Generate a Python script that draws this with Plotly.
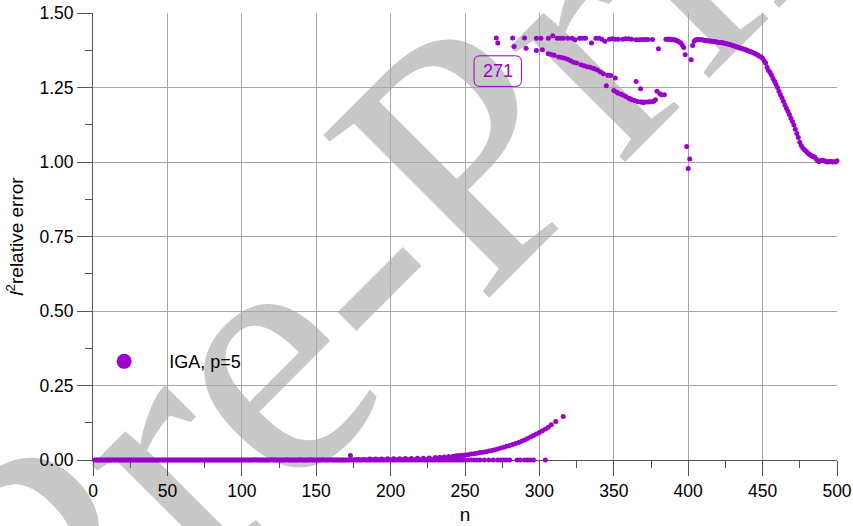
import plotly.graph_objects as go

# ---------------- data ----------------
# near-zero row, consecutive n = 1..250
n_row0 = list(range(1, 251))
err_row0 = [
    0.0, 0.0, 0.0, 0.0, 0.0, 0.0, 0.0, 0.0, 0.0, 0.0, 0.0, 0.0, 0.0, 0.0, 0.0, 0.0, 0.0, 0.0, 0.0, 0.0, 0.0, 0.0, 0.0, 0.0, 0.0,
    0.0, 0.0, 0.0, 0.0, 0.0, 0.0, 0.0, 0.0, 0.0, 0.0, 0.0, 0.0, 0.0, 0.0, 0.0, 0.0, 0.0, 0.0, 0.0, 0.0, 0.0, 0.0, 0.0, 0.0, 0.0,
    0.0, 0.0, 0.0, 0.0, 0.0, 0.0, 0.0, 0.0, 0.0, 0.0, 0.0, 0.0, 0.0, 0.0, 0.0, 0.0, 0.0, 0.0, 0.0, 0.0, 0.0, 0.0, 0.0, 0.0, 0.0,
    0.0, 0.0, 0.0, 0.0, 0.0, 0.0, 0.0, 0.0, 0.0, 0.0, 0.0, 0.0, 0.0, 0.0, 0.0, 0.0, 0.0, 0.0, 0.0, 0.0, 0.0, 0.0, 0.0, 0.0, 0.0,
    0.0, 0.0, 0.0, 0.0, 0.0, 0.0, 0.0, 0.0, 0.001, 0.0, 0.0, 0.0, 0.0, 0.0, 0.0, 0.0, 0.0, 0.0, 0.0, 0.001, 0.0, 0.0, 0.0, 0.0, 0.0,
    0.0, 0.0, 0.0, 0.0, 0.001, 0.0, 0.0, 0.0, 0.0, 0.0, 0.0, 0.0, 0.0, 0.001, 0.0, 0.0, 0.0, 0.0, 0.0, 0.0, 0.001, 0.0, 0.0, 0.0, 0.0,
    0.0, 0.0, 0.0, 0.001, 0.0, 0.0, 0.0, 0.0, 0.0, 0.001, 0.0, 0.0, 0.0, 0.0, 0.0, 0.0, 0.0, 0.0, 0.0, 0.0, 0.0, 0.0, 0.001, 0.0, 0.0,
    0.001, 0.0, 0.0, 0.001, 0.0, 0.0, 0.001, 0.0, 0.0, 0.001, 0.0, 0.0, 0.001, 0.0, 0.0, 0.001, 0.0, 0.0, 0.001, 0.0, 0.0, 0.001, 0.0, 0.0, 0.001,
    0.0, 0.0, 0.001, 0.0, 0.001, 0.0, 0.001, 0.0, 0.001, 0.0, 0.001, 0.0, 0.001, 0.0, 0.001, 0.0, 0.001, 0.0, 0.001, 0.0, 0.001, 0.0, 0.001, 0.0, 0.001,
    0.0, 0.001, 0.0, 0.001, 0.0, 0.001, 0.0, 0.001, 0.0, 0.001, 0.0, 0.001, 0.0, 0.001, 0.0, 0.001, 0.0, 0.001, 0.0, 0.001, 0.0, 0.001, 0.0, 0.001, 0.0,
]
# sparse continuation of the zero row
n_row0b = [252, 254, 256, 258, 260, 263, 266, 269, 272, 274, 276, 278, 280, 285, 287, 290, 292, 294, 296, 304]
err_row0b = [0.0, 0.0, 0.0, 0.0, 0.0, 0.0, 0.0, 0.0, 0.0, 0.0, 0.0, 0.0, 0.0, 0.0, 0.0, 0.0, 0.0, 0.0, 0.0, 0.0]

# rising low branch
n_rise = [173, 178, 182, 186, 190, 194, 198, 202, 206, 210, 214, 218, 222, 226, 230, 233, 236, 239,
          242, 244, 246, 248, 250, 252, 254, 256, 258, 260, 262, 264, 266, 268, 270, 272, 274, 276,
          278, 280, 282, 284, 286, 288, 290, 292, 294, 296, 298, 300, 302, 304, 306, 308, 311, 316]
err_rise = [0.015, 0.002, 0.002, 0.003, 0.003, 0.003, 0.004, 0.004, 0.004, 0.005, 0.005, 0.006, 0.006, 0.007,
            0.008, 0.009, 0.010, 0.012, 0.013, 0.014, 0.015, 0.016, 0.017, 0.018, 0.020, 0.021, 0.023, 0.025,
            0.026, 0.028, 0.030, 0.032, 0.034, 0.037, 0.040, 0.043, 0.046, 0.049, 0.052, 0.055, 0.059, 0.063,
            0.067, 0.072, 0.077, 0.082, 0.087, 0.092, 0.098, 0.104, 0.110, 0.118, 0.129, 0.146]

# top row (about sqrt(2))
n_top = [271, 282, 290, 298, 301, 306, 309, 312, 314, 316, 319, 322, 324, 327, 329, 331, 335, 338, 340,
         342, 344, 347, 349, 351, 353, 356, 358, 360, 362, 365, 367, 369, 371, 373, 376, 380]
err_top = [1.416, 1.416, 1.416, 1.415, 1.415, 1.415, 1.424, 1.415, 1.415, 1.415, 1.415, 1.415, 1.410,
           1.415, 1.415, 1.415, 1.399, 1.415, 1.415, 1.412, 1.405, 1.412, 1.414, 1.412, 1.412, 1.412,
           1.414, 1.414, 1.412, 1.410, 1.410, 1.411, 1.411, 1.411, 1.411, 1.380]

# upper declining branch
n_mid = [272, 283, 291, 298, 302, 306, 308, 310, 313, 315, 317, 319, 321, 323, 325, 328, 330, 332, 334,
         336, 337, 339, 341, 343, 346, 348, 351]
err_mid = [1.399, 1.388, 1.382, 1.374, 1.377, 1.363, 1.361, 1.358, 1.352, 1.351, 1.348, 1.345, 1.340,
           1.335, 1.332, 1.326, 1.323, 1.320, 1.318, 1.315, 1.313, 1.309, 1.302, 1.296, 1.291, 1.290, 1.282]

# lower declining branch
n_low = [345, 350, 352, 353, 355, 356, 358, 360, 361, 362, 364, 365, 366, 368, 368, 369, 370, 371, 373,
         374, 376, 377, 378, 379, 381, 382, 384]
err_low = [1.256, 1.240, 1.234, 1.231, 1.227, 1.225, 1.220, 1.214, 1.212, 1.209, 1.206, 1.270, 1.203,
           1.246, 1.201, 1.201, 1.200, 1.201, 1.201, 1.202, 1.203, 1.205, 1.209, 1.237, 1.229, 1.226, 1.226]

# cluster and jump around n = 400
n_jump = [385, 386, 387, 388, 389, 390, 391, 392, 393, 394, 395, 396, 397, 398, 399, 400, 401, 402, 403, 404]
err_jump = [1.412, 1.412, 1.412, 1.412, 1.411, 1.410, 1.410, 1.408, 1.406, 1.403, 1.399, 1.393, 1.384,
            1.360, 1.052, 0.978, 1.010, 1.343, 1.391, 1.405]

# high branch and final drop, consecutive n = 405..500
n_high = list(range(405, 501))
err_high = [
    1.409, 1.411, 1.411, 1.410, 1.410, 1.409, 1.408, 1.408, 1.407, 1.406, 1.406, 1.405, 1.404, 1.404, 1.403, 1.402,
    1.401, 1.401, 1.400, 1.399, 1.398, 1.397, 1.395, 1.394, 1.393, 1.391, 1.389, 1.388, 1.386, 1.384, 1.382, 1.381,
    1.379, 1.378, 1.376, 1.374, 1.372, 1.370, 1.368, 1.366, 1.364, 1.361, 1.358, 1.355, 1.352, 1.348, 1.340, 1.332,
    1.318, 1.307, 1.300, 1.291, 1.280, 1.271, 1.261, 1.250, 1.237, 1.226, 1.216, 1.204, 1.191, 1.180, 1.170, 1.159,
    1.147, 1.136, 1.124, 1.110, 1.096, 1.082, 1.066, 1.055, 1.047, 1.042, 1.037, 1.032, 1.027, 1.024, 1.020, 1.018,
    1.017, 1.010, 1.003, 1.002, 1.005, 1.006, 1.004, 1.003, 1.001, 1.000, 1.002, 1.002, 1.000, 1.001, 1.000, 1.004,
]

x_ticks = [0, 50, 100, 150, 200, 250, 300, 350, 400, 450, 500]
y_ticks = [0.0, 0.25, 0.5, 0.75, 1.0, 1.25, 1.5]

series_name = "IGA, p=5"
label_n = 271

# ---------------- figure ----------------
PURPLE = "#9900cc"
AXIS = "#555555"
GRID = "#a6a6a6"

xs = n_row0 + n_row0b + n_rise + n_top + n_mid + n_low + n_jump + n_high
ys = err_row0 + err_row0b + err_rise + err_top + err_mid + err_low + err_jump + err_high

fig = go.Figure()
fig.add_trace(go.Scatter(
    x=xs, y=ys, mode="markers", name=series_name, showlegend=False,
    marker=dict(color=PURPLE, size=5, line=dict(width=0)),
    cliponaxis=False,
))
# legend entry
fig.add_trace(go.Scatter(
    x=[None], y=[None], mode="markers",
    name="\u00a0\u00a0\u00a0\u00a0\u00a0" + series_name,
    marker=dict(color=PURPLE, size=15),
))

# watermark
fig.add_shape(
    type="rect", xref="paper", yref="paper", x0=0.4141, x1=0.4201, y0=0.6693, y1=0.6753,
    line=dict(width=0), fillcolor="rgba(0,0,0,0)", layer="below",
    label=dict(text="Pre-Print", textangle=-45, textposition="middle center",
               font=dict(family="Liberation Serif", size=355, color="#c8c8c8")),
)

# rounded label box for n = 271
fig.add_shape(
    type="path", xref="x", yref="y", xsizemode="pixel", ysizemode="pixel",
    xanchor=label_n + 1, yanchor=1.305,
    path=("M -17.7,-15.3 L 17.7,-15.3 Q 23.7,-15.3 23.7,-9.3 L 23.7,9.3 Q 23.7,15.3 17.7,15.3 "
          "L -17.7,15.3 Q -23.7,15.3 -23.7,9.3 L -23.7,-9.3 Q -23.7,-15.3 -17.7,-15.3 Z"),
    line=dict(color=PURPLE, width=1), fillcolor="rgba(255,255,255,0)", layer="above",
)
fig.add_annotation(
    x=label_n + 1, y=1.305, xref="x", yref="y", text=str(label_n), showarrow=False,
    xanchor="center", yanchor="middle",
    font=dict(family="Liberation Sans", size=18, color=PURPLE),
)

tickfont = dict(family="Liberation Sans", size=17.5, color="#000000")
titlefont = dict(family="Liberation Sans", size=19, color="#000000")

fig.update_xaxes(
    range=[0, 500], tickvals=x_ticks, ticktext=[str(v) for v in x_ticks],
    showgrid=True, gridcolor=GRID, gridwidth=1, zeroline=False,
    showline=True, linecolor=AXIS, linewidth=1,
    ticks="outside", ticklen=15, tickwidth=1, tickcolor=AXIS,
    minor=dict(dtick=25, tick0=0, ticks="outside", ticklen=7, tickwidth=1, tickcolor=AXIS, showgrid=False),
    tickfont=tickfont, layer="below traces",
    title=dict(text="n", font=titlefont, standoff=7),
)
fig.update_yaxes(
    range=[0, 1.5], tickvals=y_ticks, ticktext=["%.2f" % v for v in y_ticks],
    showgrid=True, gridcolor=GRID, gridwidth=1, zeroline=False,
    showline=True, linecolor=AXIS, linewidth=1,
    ticks="outside", ticklen=15, tickwidth=1, tickcolor=AXIS,
    minor=dict(dtick=0.125, tick0=0, ticks="outside", ticklen=7, tickwidth=1, tickcolor=AXIS, showgrid=False),
    tickfont=tickfont, layer="below traces", ticklabelstandoff=0,
    title=dict(text="<i>l</i><sup>2</sup>relative error", font=titlefont, standoff=10),
)

fig.update_layout(
    width=853, height=526,
    margin=dict(l=93, r=16, t=13, b=66, autoexpand=False),
    paper_bgcolor="white", plot_bgcolor="white",
    font=dict(family="Liberation Sans", color="#000000"),
    showlegend=True,
    legend=dict(x=0.015, y=0.22, xanchor="left", yanchor="middle",
                bgcolor="rgba(0,0,0,0)", borderwidth=0,
                font=dict(family="Liberation Sans", size=18, color="#000000")),
)

fig.write_html(
    "out.html",
    config={"displayModeBar": False},
    post_script="document.body.style.margin='0px';document.body.style.overflow='hidden';",
)
